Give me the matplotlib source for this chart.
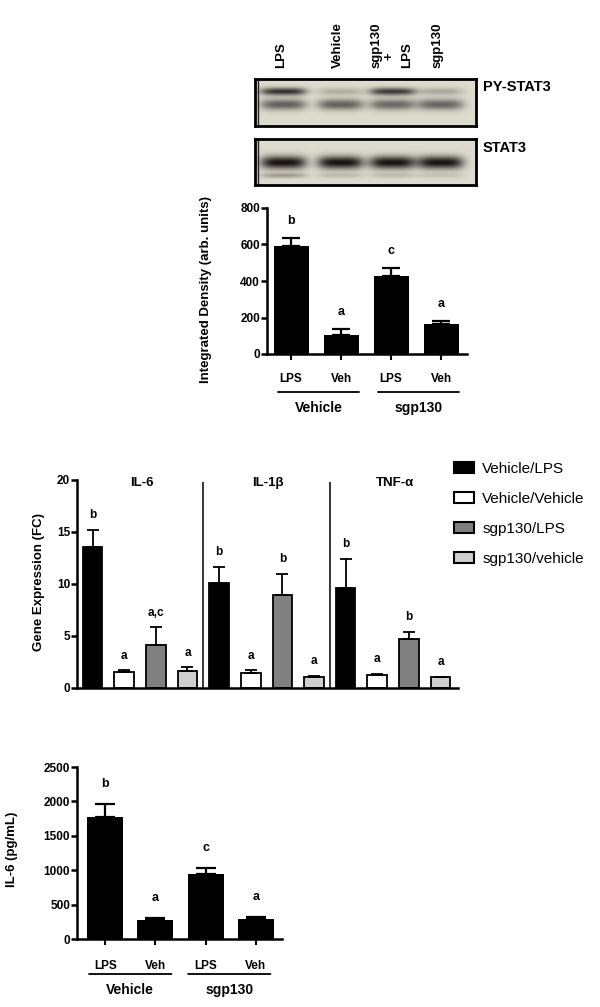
import numpy as np
import matplotlib
matplotlib.use('Agg')
import matplotlib.pyplot as plt
from matplotlib.patches import Patch

plt.rcParams['font.family'] = ['Liberation Sans', 'DejaVu Sans']
plt.rcParams['font.weight'] = 'bold'

W, H = 600, 1007

# ---- data ----
lane_names = ['LPS', 'Vehicle', 'sgp130\n+\nLPS', 'sgp130']
lane_px = [28, 85, 137, 185]
pstat_upper = [0.85, 0.22, 0.8, 0.25]
pstat_lower = [0.62, 0.62, 0.58, 0.6]
stat_main = [1.0, 1.0, 1.0, 1.0]
stat_faint = [0.3, 0.15, 0.15, 0.12]

dens_cat = ['LPS', 'Veh', 'LPS', 'Veh']
dens_mean = [592, 104, 427, 164]
dens_err = [44, 33, 44, 17]
dens_sig = ['b', 'a', 'c', 'a']
group_names = ['Vehicle', 'sgp130']

genes = ['IL-6', 'IL-1β', 'TNF-α']
series = ['Vehicle/LPS', 'Vehicle/Vehicle', 'sgp130/LPS', 'sgp130/vehicle']
series_colors = ['#000000', '#ffffff', '#808080', '#d0d0d0']
il6_fc = [13.6, 1.5, 4.1, 1.65]
il6_fc_err = [1.6, 0.2, 1.75, 0.35]
il6_sig = ['b', 'a', 'a,c', 'a']
il1b_fc = [10.05, 1.45, 8.9, 1.05]
il1b_fc_err = [1.6, 0.25, 2.1, 0.1]
il1b_sig = ['b', 'a', 'b', 'a']
tnf_fc = [9.6, 1.25, 4.7, 1.05]
tnf_fc_err = [2.8, 0.1, 0.7, 0.05]
tnf_sig = ['b', 'a', 'b', 'a']

elisa_cat = ['LPS', 'Veh', 'LPS', 'Veh']
elisa_il6 = [1780, 280, 945, 285]
elisa_err = [180, 20, 90, 30]
elisa_sig = ['b', 'a', 'c', 'a']


def rect(l, t, r, b):
    return [l / W, (H - b) / H, (r - l) / W, (b - t) / H]


def fpx(y):
    # figure pixels measured from the top
    return H - y


def blot(ax, bands, height):
    # bands: list of (row, intensities, sigma)
    xs = np.arange(221)[None, :]
    ys = np.arange(height)[:, None]
    d = np.zeros((height, 221))
    for row, vals, sig in bands:
        for c, v in zip(lane_px, vals):
            d += v * np.exp(-((xs - c) / 23.0) ** 4) * np.exp(-((ys - row) / sig) ** 2)
    d = np.clip(d, 0, 1)
    bg = np.array([0.87, 0.86, 0.81])
    ink = np.array([0.10, 0.08, 0.08])
    img = bg[None, None, :] * (1 - d[..., None]) + ink[None, None, :] * d[..., None]
    ax.imshow(img, aspect='auto', extent=(0, 221, height, 0), interpolation='bilinear')
    ax.set_xticks([])
    ax.set_yticks([])
    for s in ax.spines.values():
        s.set_linewidth(2)
    ax.axvline(3, color='#222222', lw=1)


fig = plt.figure(figsize=(W / 100, H / 100), dpi=100)

# ---- western blots ----
ax_b1 = fig.add_axes(rect(255, 79, 476, 126))
blot(ax_b1, [(12, pstat_upper, 3.8), (25, pstat_lower, 5.5)], 47)
ax_b2 = fig.add_axes(rect(255, 139, 476, 185))
blot(ax_b2, [(23, stat_main, 6.5), (36, stat_faint, 2.5)], 46)

for c, name in zip(lane_px, lane_names):
    if '\n' in name:
        parts = name.split('\n')
        for dx, p in zip([-15, -3, 15], parts):
            ax_b1.annotate(p, (c + dx, fpx(68 if p != '+' else 60)),
                           xycoords=('data', 'figure pixels'),
                           rotation=90, ha='center', va='bottom', fontsize=9.5,
                           annotation_clip=False)
    else:
        ax_b1.annotate(name, (c - 2, fpx(68)), xycoords=('data', 'figure pixels'),
                       rotation=90, ha='center', va='bottom', fontsize=9.5,
                       annotation_clip=False)
fig.text(483 / W, 1 - 87 / H, 'PY-STAT3', fontsize=10.5, va='center', ha='left')
fig.text(483 / W, 1 - 148 / H, 'STAT3', fontsize=10.5, va='center', ha='left')


def style_axes(ax, lw=1.8):
    for s in ['top', 'right']:
        ax.spines[s].set_visible(False)
    for s in ['left', 'bottom']:
        ax.spines[s].set_linewidth(lw)
    ax.tick_params(axis='y', width=lw, length=4, labelsize=8.5, pad=1)
    for lab in ax.get_yticklabels():
        lab.set_fontweight('bold')


def group_labels(ax, centers, half, line_y, text_y, offset=0.0):
    for c, g in zip(centers, group_names):
        ax.annotate('', xy=(c + offset - half, fpx(line_y)), xytext=(c + offset + half, fpx(line_y)),
                    xycoords=('data', 'figure pixels'), textcoords=('data', 'figure pixels'),
                    arrowprops=dict(arrowstyle='-', lw=1.3, color='black', shrinkA=0, shrinkB=0))
        ax.annotate(g, (c + offset, fpx(text_y)), xycoords=('data', 'figure pixels'),
                    ha='center', va='center', fontsize=10, annotation_clip=False)


# ---- integrated density ----
ax1 = fig.add_axes(rect(267, 208, 467, 354))
x1 = np.arange(len(dens_mean))
ax1.bar(x1, dens_mean, width=0.7, color='black', zorder=2)
ax1.errorbar(x1, dens_mean, yerr=[np.zeros(4), dens_err], fmt='none', ecolor='black',
             elinewidth=1.6, capsize=6.5, capthick=1.6, zorder=3)
for xi, m, e, s in zip(x1, dens_mean, dens_err, dens_sig):
    ax1.annotate(s, (xi, m + e), xytext=(0, 12), textcoords='offset points',
                 ha='center', va='center', fontsize=9)
ax1.set_xlim(-0.48, 3.52)
ax1.set_ylim(0, 800)
ax1.set_yticks([0, 200, 400, 600, 800])
ax1.set_xticks(x1)
ax1.set_xticklabels(dens_cat, fontsize=8.5, fontweight='bold')
ax1.tick_params(axis='x', width=1.5, length=4, pad=10)
style_axes(ax1)
ax1.set_ylabel('Integrated Density (arb. units)', fontsize=9.5, fontweight='bold')
ax1.yaxis.set_label_coords(-0.275, 0.44)
group_labels(ax1, [0.5, 2.5], 0.81, 392, 408, offset=0.05)

# ---- gene expression ----
ax2 = fig.add_axes(rect(77, 480, 458, 688))
gene_vals = [(il6_fc, il6_fc_err, il6_sig), (il1b_fc, il1b_fc_err, il1b_sig),
             (tnf_fc, tnf_fc_err, tnf_sig)]
for g, (vals, errs, sigs) in enumerate(gene_vals):
    xs = 4 * g + np.arange(4)
    ax2.bar(xs, vals, width=0.62, color=series_colors, edgecolor='black', linewidth=1.3, zorder=2)
    ax2.errorbar(xs, vals, yerr=[np.zeros(4), errs], fmt='none', ecolor='black',
                 elinewidth=1.3, capsize=4.3, capthick=1.3, zorder=3)
    for xi, m, e, s in zip(xs, vals, errs, sigs):
        ax2.annotate(s, (xi, m + e), xytext=(0, 10.5), textcoords='offset points',
                     ha='center', va='center', fontsize=8.5)
    ax2.text(4 * g + 1.55, 19.7, genes[g], ha='center', va='center', fontsize=9.5)
ax2.vlines([3.5, 7.5], 0, 19.8, color='black', lw=1.1)
ax2.set_xlim(-0.49, 11.55)
ax2.set_ylim(0, 20)
ax2.set_yticks([0, 5, 10, 15, 20])
ax2.set_xticks([])
style_axes(ax2)
ax2.set_ylabel('Gene Expression (FC)', fontsize=9.5, fontweight='bold')
ax2.yaxis.set_label_coords(-0.084, 0.51)
handles = [Patch(facecolor=c, edgecolor='black', linewidth=1.5) for c in series_colors]
leg = fig.legend(handles, series, loc='upper left', bbox_to_anchor=(454 / W, 1 - 462 / H),
                 frameon=False, borderpad=0, borderaxespad=0, handlelength=1.3,
                 handleheight=0.72, handletextpad=0.55, labelspacing=1.05,
                 prop={'size': 11, 'weight': 'normal'})

# ---- ELISA IL-6 ----
ax3 = fig.add_axes(rect(77, 767, 282, 939))
x3 = np.arange(len(elisa_il6))
ax3.bar(x3, elisa_il6, width=0.72, color='black', zorder=2)
ax3.errorbar(x3, elisa_il6, yerr=[np.zeros(4), elisa_err], fmt='none', ecolor='black',
             elinewidth=1.6, capsize=7.5, capthick=1.6, zorder=3)
for xi, m, e, s in zip(x3, elisa_il6, elisa_err, elisa_sig):
    ax3.annotate(s, (xi, m + e), xytext=(0, 14.5), textcoords='offset points',
                 ha='center', va='center', fontsize=9)
ax3.set_xlim(-0.56, 3.52)
ax3.set_ylim(0, 2500)
ax3.set_yticks([0, 500, 1000, 1500, 2000, 2500])
ax3.set_xticks(x3)
ax3.set_xticklabels(elisa_cat, fontsize=8.5, fontweight='bold')
ax3.tick_params(axis='x', width=1.5, length=4, pad=11)
style_axes(ax3)
ax3.set_ylabel('IL-6 (pg/mL)', fontsize=9.5, fontweight='bold')
ax3.yaxis.set_label_coords(-0.29, 0.52)
group_labels(ax3, [0.5, 2.47], 0.82, 974, 990, offset=0.0)

fig.savefig('out.png', dpi=100, facecolor='white')
